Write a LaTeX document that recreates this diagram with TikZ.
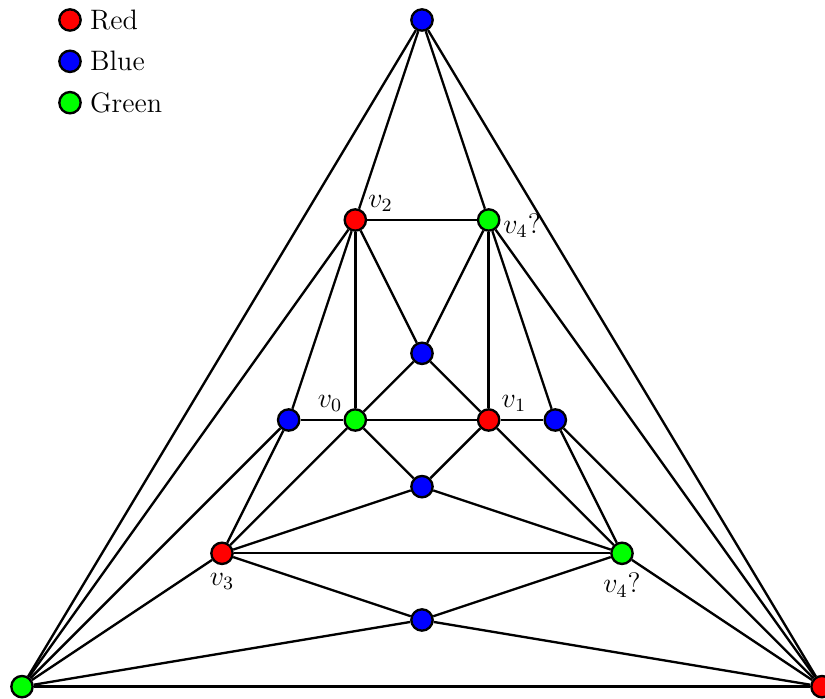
\documentclass[tikz,border=0pt]{standalone}
\usepackage{amsmath}
\usepackage{xcolor}
\usepackage{tikz}
\usetikzlibrary{positioning}

\begin{document}
\begin{tikzpicture}[
					vtx/.style={
						circle, draw=black, line width=1pt,
						inner sep=0pt, minimum size=0.32cm
					},
					rvtx/.style={vtx, fill=red},
					bvtx/.style={vtx, fill=blue},
					gvtx/.style={vtx, fill=green},
					every label/.style={font=\large},
					edge/.style={draw, black, line width=1pt}
					]
					\useasboundingbox (-6.33,-0.185) rectangle (6.045,10.3);
					
					% legend
					\node[rvtx, label=right:Red] (keyR) at (-5.28,10) {};
					\node[bvtx, below=0.265cm of keyR, label=right:Blue] (keyB) {};
					\node[gvtx, below=0.265cm of keyB, label=right:Green] (keyG) {};
					
					% outer triangle
					\node[bvtx] (top) at (0,10) {};
					\node[gvtx] (bl) at (-6,0) {};
					\node[rvtx] (br) at (6,0) {};
					
					% inner vertices
					\node[rvtx, label={[inner sep=1pt]30:$v_2$}] (v2) at (-1,7) {};
					\node[gvtx, label={[inner sep=1pt, yshift=-2.5pt]0:$v_4?$}] (v4a) at (1,7) {};
					\node[bvtx] (ctop) at (0,5) {};
					\node[bvtx] (lft) at (-2,4) {};
					\node[gvtx, label={[inner sep=1pt]150:$v_0$}] (v0) at (-1,4) {};
					\node[rvtx, label={[inner sep=1pt]30:$v_1$}] (v1) at (1,4) {};
					\node[bvtx] (rgt) at (2,4) {};
					\node[bvtx] (cbot) at (0,3) {};
					\node[rvtx, label=below:$v_3$] (v3) at (-3,2) {};
					\node[gvtx, label=below:$v_4?$] (v4b) at (3,2) {};
					\node[bvtx] (bot) at (0,1) {};
					
					% edges
					\foreach \a/\b in {top/bl, top/br, top/v2, top/v4a, bl/br,
						bl/v2, bl/lft, bl/v3, bl/bot,
						br/v4a, br/rgt, br/v4b, br/bot,
						v2/v4a, v2/v0, v2/ctop, v2/lft,
						v4a/v1, v4a/ctop, v4a/rgt,
						lft/v0, lft/v3, v0/v1, v0/ctop, v0/cbot, v0/v3,
						v1/rgt, v1/ctop, v1/cbot, v1/v4b, rgt/v4b,
						cbot/v3, cbot/v4b, v3/v4b, v3/bot, v4b/bot}
					\draw[edge] (\a) -- (\b);
				\end{tikzpicture}
\end{document}
